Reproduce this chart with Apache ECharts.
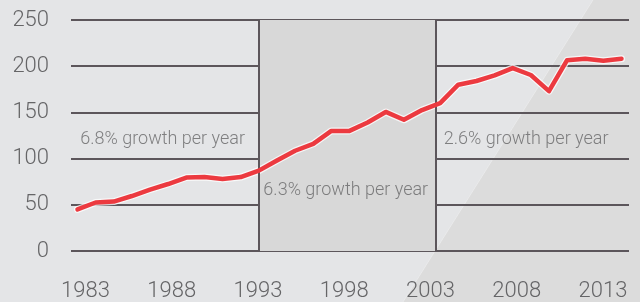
<!DOCTYPE html>
<html>
<head>
<meta charset="utf-8">
<script src="https://cdn.jsdelivr.net/npm/echarts@6/dist/echarts.min.js"></script>
<style>
html,body{margin:0;padding:0;background:#e4e5e7;}
#chart{width:640px;height:302px;}
</style>
</head>
<body>
<div id="chart"></div>
<script>
// ---- data ----
var years = [1983,1984,1985,1986,1987,1988,1989,1990,1991,1992,1993,1994,1995,1996,1997,1998,1999,2000,2001,2002,2003,2004,2005,2006,2007,2008,2009,2010,2011,2012,2013];
var values = [45,52.5,53.5,59.5,66.5,72.5,79.5,80,78,80,87,98,108.5,116,130,130,139,150.5,142,152.5,160,180,184,190,198,190.5,173,206.5,208,206,208];
var tickYears = [1983,1988,1993,1998,2003,2008,2013];
var yTicks = {min:0, max:250, interval:50};
var shadedPeriod = [1993, 2002.75];
var notes = [
  {text:'6.8% growth per year', year:1983.15, value:121},
  {text:'6.3% growth per year', year:1993.25, value:65},
  {text:'2.6% growth per year', year:2003.2, value:121}
];

var pts = years.map(function(y,i){return [y, values[i]];});
var txt = '#656567';
var gridCol = '#5c565b';
var font = 'Roboto';

var chart = echarts.init(document.getElementById('chart'), null, {renderer:'canvas'});
chart.setOption({
  backgroundColor:'#e4e5e7',
  animation:false,
  graphic:[
    {type:'polygon', z:-10, silent:true, shape:{points:[[593,0],[640,0],[640,302],[403,302]]}, style:{fill:'#dcdcdc'}},
    {type:'line', z:-9, silent:true, shape:{x1:593,y1:0,x2:403,y2:302}, style:{stroke:'rgba(255,255,255,0.3)', lineWidth:1}}
  ],
  grid:{left:71, right:11, top:20, bottom:49.3},
  xAxis:[
    {type:'value', min:1982.642, max:2013.414, show:true,
     axisLine:{show:false}, axisTick:{show:false}, axisLabel:{show:false}, splitLine:{show:false}},
    {type:'value', min:1982.16, max:2014.51, position:'bottom',
     axisLine:{show:false}, axisTick:{show:false}, splitLine:{show:false},
     axisLabel:{customValues:tickYears, color:txt, fontSize:22, fontFamily:font, fontWeight:300, margin:29,
       formatter:function(v){return String(v);}}}
  ],
  yAxis:{type:'value', min:yTicks.min, max:yTicks.max, interval:yTicks.interval,
    axisLine:{show:false}, axisTick:{show:false},
    axisLabel:{color:txt, fontSize:22, fontFamily:font, fontWeight:300, margin:22},
    splitLine:{lineStyle:{color:gridCol, width:2}}
  },
  series:[
    {type:'line', xAxisIndex:0, data:[], silent:true, z:1,
     markArea:{silent:true, itemStyle:{color:'#d8d8d8'},
       data:[[{xAxis:shadedPeriod[0], yAxis:yTicks.min},{xAxis:shadedPeriod[1], yAxis:yTicks.max}]]},
     markLine:{silent:true, symbol:['none','none'], label:{show:false},
       lineStyle:{color:gridCol, width:2, type:'solid'},
       data:[[{coord:[shadedPeriod[0], yTicks.min]},{coord:[shadedPeriod[0], yTicks.max]}],
             [{coord:[shadedPeriod[1], yTicks.min]},{coord:[shadedPeriod[1], yTicks.max]}]]}
    },
    {type:'scatter', xAxisIndex:0, silent:true, z:3, symbolSize:0,
     data:notes.map(function(n){return [n.year, n.value];}),
     label:{show:true, position:'right', distance:0,
       formatter:function(p){return notes[p.dataIndex].text;},
       color:txt, fontSize:18, fontFamily:font, fontWeight:300}
    },
    {type:'line', xAxisIndex:0, data:pts, showSymbol:false, silent:true, z:4,
     lineStyle:{color:'rgba(255,255,255,0.75)', width:7, cap:'round', join:'round'}},
    {type:'line', xAxisIndex:0, data:pts, showSymbol:false, silent:true, z:5,
     lineStyle:{color:'#ec3a40', width:4.5, cap:'round', join:'round'}}
  ]
});
</script>
</body>
</html>
